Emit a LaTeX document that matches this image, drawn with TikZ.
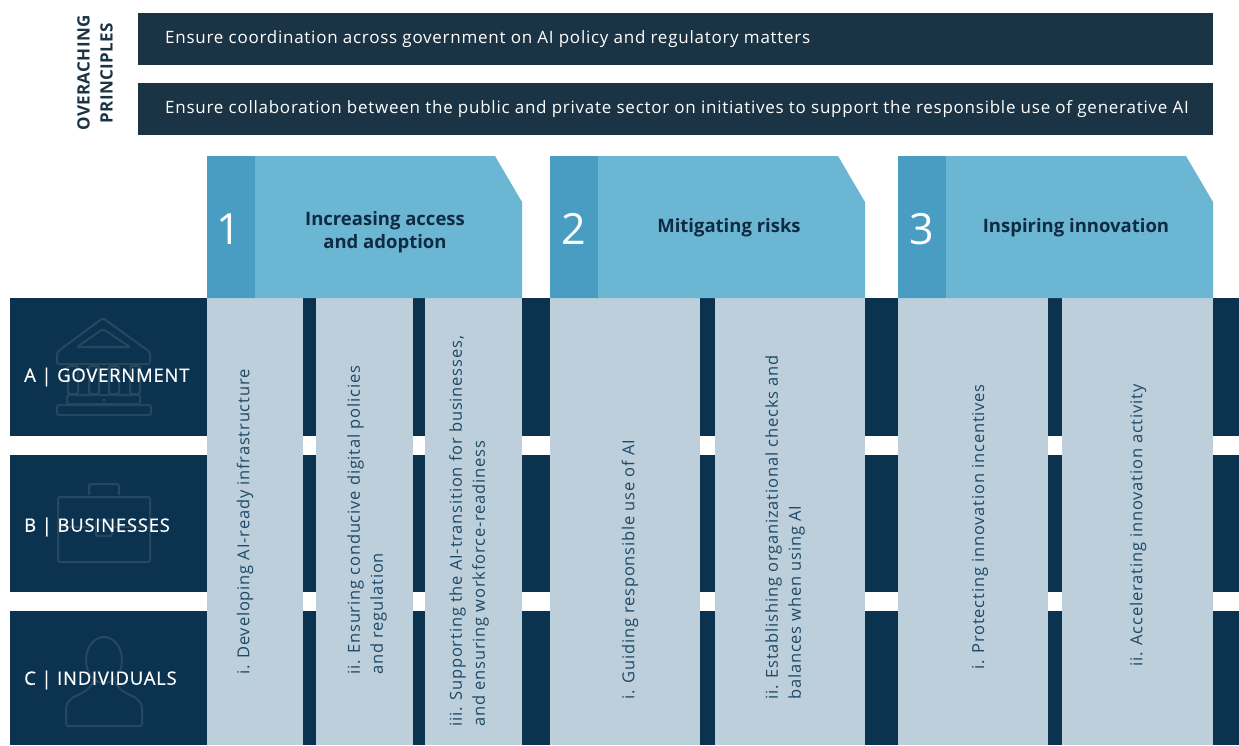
\documentclass[tikz,border=0pt]{standalone}
\usepackage{fontspec}
\setmainfont{Open Sans}
\usepackage{xcolor}
\usepackage{tikz}
\definecolor{barcolor}{HTML}{1B3445}
\definecolor{rowcolor}{HTML}{0B3350}
\definecolor{itemfill}{HTML}{BDCFDB}
\definecolor{headlight}{HTML}{6BB6D2}
\definecolor{headdark}{HTML}{4A9DC2}
\definecolor{titlecolor}{HTML}{0F2B42}
\definecolor{itemcolor}{HTML}{1E4966}
\definecolor{iconcolor}{HTML}{27475F}

\begin{document}
\begin{tikzpicture}[x=1pt, y=-1pt,
  bartext/.style={anchor=west, text=white, inner sep=0pt, font=\fontsize{17pt}{20pt}\selectfont\addfontfeature{LetterSpace=4.4}},
  rowlabel/.style={anchor=west, text=white, inner sep=0pt, font=\fontsize{18.5pt}{20pt}\selectfont\addfontfeature{LetterSpace=4,FakeBold=0.5}},
  itemtext/.style={rotate=90, anchor=west, align=left, inner sep=0pt, text=itemcolor, font=\fontsize{16.5pt}{23pt}\selectfont\addfontfeature{LetterSpace=5}},
  headtitle/.style={align=center, text=titlecolor, font=\bfseries\fontsize{18.5pt}{23pt}\selectfont},
  headnum/.style={text=white, font=\fontsize{43pt}{45pt}\selectfont},
  icon/.style={draw=iconcolor, line width=2pt, rounded corners=2pt}]
\useasboundingbox (0,0) rectangle (1239,745);%
% overarching principles
\fill[barcolor] (138,13) rectangle (1213,65);%
\fill[barcolor] (138,83) rectangle (1213,135);%
\node[rotate=90, align=center, text=barcolor, font=\bfseries\fontsize{17pt}{23pt}\selectfont\addfontfeature{LetterSpace=2}] (principles) at (95,73) {OVERACHING\\PRINCIPLES};%
\node[bartext] (coord) at (165,39) {Ensure coordination across government on AI policy and regulatory matters};%
\node[bartext] (collab) at (165,109) {Ensure collaboration between the public and private sector on initiatives to support the responsible use of generative AI};%
% row bands
\fill[rowcolor] (10,298) rectangle (1239,436);%
\fill[rowcolor] (10,455) rectangle (1239,592);%
\fill[rowcolor] (10,611) rectangle (1239,745);%
% icons
\draw[icon] (57,364) -- (57,352) -- (103,318) -- (150,352) -- (150,364) -- cycle;%
\draw[icon] (77,347) -- (103,329) -- (130,347) -- cycle;%
\foreach \cx in {73,94,114,135} {\draw[icon] (\cx-5,366) rectangle (\cx+5,394);}%
\draw[icon] (67,395) rectangle (140,404);%
\draw[icon] (57,405) rectangle (151,415);%
\fill[iconcolor] (104,400) circle (1.5);%
\draw[icon] (89,495) -- (89,484) -- (119,484) -- (119,495);%
\draw[icon] (58,497) rectangle (150,562);%
\draw[icon] (58,527) -- (96,527);%
\draw[icon] (112,527) -- (150,527);%
\draw[icon] (96,520) rectangle (112,536);%
\draw[icon] (104,660) ellipse (18 and 23);%
\draw[icon] (93,681) .. controls (88,698) and (66,692) .. (66,712) -- (66,726) -- (142,726) -- (142,712) .. controls (142,692) and (120,698) .. (115,681);%
% row labels
\node[rowlabel] (gov) at (24,377) {A | GOVERNMENT};%
\node[rowlabel] (bus) at (24,527) {B | BUSINESSES};%
\node[rowlabel] (ind) at (24,680) {C | INDIVIDUALS};%
% item columns
\fill[itemfill] (207,298) rectangle (303,745);%
\fill[itemfill] (316,298) rectangle (413,745);%
\fill[itemfill] (425,298) rectangle (522,745);%
\fill[itemfill] (550,298) rectangle (700,745);%
\fill[itemfill] (715,298) rectangle (865,745);%
\fill[itemfill] (898,298) rectangle (1048,745);%
\fill[itemfill] (1062,298) rectangle (1213,745);%
% headers
\fill[headlight] (207,156) -- (495,156) -- (522,202) -- (522,298) -- (207,298) -- cycle;%
\fill[headdark] (207,156) rectangle (255,298);%
\fill[headlight] (550,156) -- (838,156) -- (865,202) -- (865,298) -- (550,298) -- cycle;%
\fill[headdark] (550,156) rectangle (598,298);%
\fill[headlight] (898,156) -- (1186,156) -- (1213,202) -- (1213,298) -- (898,298) -- cycle;%
\fill[headdark] (898,156) rectangle (946,298);%
\node[headnum] (num1) at (229,229) {1};%
\node[headnum] (num2) at (574,229) {2};%
\node[headnum] (num3) at (922,229) {3};%
\node[headtitle] (access) at (385,232) {Increasing access\\and adoption};%
\node[headtitle] (risks) at (729,228) {Mitigating risks};%
\node[headtitle] (innov) at (1076,228) {Inspiring innovation};%
% item texts
\node[itemtext] (infra) at (245,675) {i. Developing AI-ready infrastructure};%
\node[itemtext] (policy) at (367,675) {ii. Ensuring conducive digital policies\\and regulation};%
\node[itemtext] (transition) at (469,727) {iii. Supporting the AI-transition for businesses,\\and ensuring workforce-readiness};%
\node[itemtext] (guiding) at (630,700) {i. Guiding responsible use of AI};%
\node[itemtext] (checks) at (785,700) {ii. Establishing organizational checks and\\balances when using AI};%
\node[itemtext] (protect) at (980,670) {i. Protecting innovation incentives};%
\node[itemtext] (accel) at (1138,667) {ii. Accelerating innovation activity};%
\end{tikzpicture}
\end{document}
